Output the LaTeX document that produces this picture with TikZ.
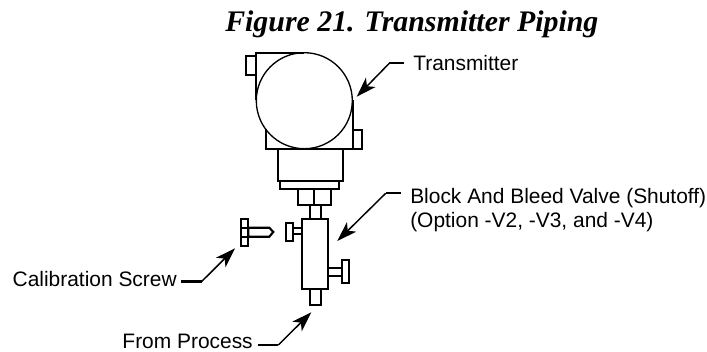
\documentclass[tikz,border=0pt]{standalone}
\usepackage{fontspec}
\setmainfont{Liberation Sans}
\newfontfamily\titlefont{Liberation Serif}
\usetikzlibrary{arrows.meta}
\tikzset{
	x=0.75pt, y=-0.75pt,
	part/.style = {draw=black, line width=1.6pt, fill=white},
	leader/.style = {draw=black, line width=1.1pt, line join=round,
		-{Stealth[length=15pt, width=10pt, inset=4pt]}},
	bar/.style = {draw=black, line width=1.6pt},
	callout/.style = {inner sep=0pt, font=\fontsize{15.7}{18}\selectfont, align=left},
	heading/.style = {inner sep=0pt, font=\titlefont\bfseries\itshape\fontsize{22.4}{26}\selectfont}
}
\begin{document}
\begin{tikzpicture}
	\useasboundingbox (0,0) rectangle (707,352);
	\node [heading, anchor=base west] (title) at (225,32) {Figure 21. Transmitter Piping};
	% transmitter housing
	\draw [part, fill=none] (304.3,53.3) -- (255.7,53.3) -- (255.7,100);
	\draw [part] (246,56) rectangle (255.7,75.3);
	\draw [part, fill=none] (266,129.3) -- (266,149.3) -- (352.7,149.3) -- (352.7,100);
	\draw [part] (352.7,130) rectangle (361.7,149.3);
	\draw [draw=black, line width=1pt] (304.3,100.7) circle (48);
	\draw [part] (278.3,149.3) rectangle (342.7,180.7);
	\draw [part] (280,180.7) rectangle (338.7,189);
	\draw [part] (298.3,189) rectangle (330.7,205);
	\draw [part] (314.3,189) -- (314.3,205);
	\draw [part] (310,205) rectangle (321,218.7);
	% valve
	\draw [part] (302,218.7) rectangle (328.3,288.7);
	\draw [part] (310,288.7) rectangle (321,305.3);
	\draw [part] (292.7,227.7) rectangle (302,234);
	\draw [part] (285.7,222.7) rectangle (292.7,241);
	\draw [part] (328.3,268.3) rectangle (341.7,276);
	\draw [part] (341.7,260) rectangle (349.3,282.7);
	% screw
	\draw [part] (248.3,227.7) -- (269.3,227.7) -- (273.3,232) -- (269.3,236.7) -- (248.3,236.7) -- cycle;
	\draw [part] (240.7,218.7) rectangle (248.3,246);
	\draw [part] (240.7,227.7) -- (248.3,227.7) (240.7,236.7) -- (248.3,236.7);
	% labels
	\node [callout, anchor=base west] (transmitter) at (413,71) {Transmitter};
	\node [callout, anchor=north west] (valve) at (410,188) {Block And Bleed Valve (Shutoff)\\(Option -V2, -V3, and -V4)};
	\node [callout, anchor=base east] (screw) at (177,286.7) {Calibration Screw};
	\node [callout, anchor=base east] (process) at (253,349) {From Process};
	% leaders
	\coordinate (t0) at (404.3,63.3);
	\coordinate (t1) at (389.3,63.3);
	\coordinate (t2) at (356.7,96.7);
	\draw [bar] (t0) -- (t1);
	\draw [leader] (t1) -- (t2);
	\coordinate (v0) at (400.7,193.3);
	\coordinate (v1) at (385.7,193.3);
	\coordinate (v2) at (337.3,241);
	\draw [bar] (v0) -- (v1);
	\draw [leader] (v1) -- (v2);
	\coordinate (s0) at (181,281.5);
	\coordinate (s1) at (201.7,281.5);
	\coordinate (s2) at (235,248.3);
	\draw [bar] (s0) -- (s1);
	\draw [leader] (s1) -- (s2);
	\coordinate (p0) at (257.7,345);
	\coordinate (p1) at (278.3,345);
	\coordinate (p2) at (311.3,312.3);
	\draw [bar] (p0) -- (p1);
	\draw [leader] (p1) -- (p2);
\end{tikzpicture}
\end{document}
